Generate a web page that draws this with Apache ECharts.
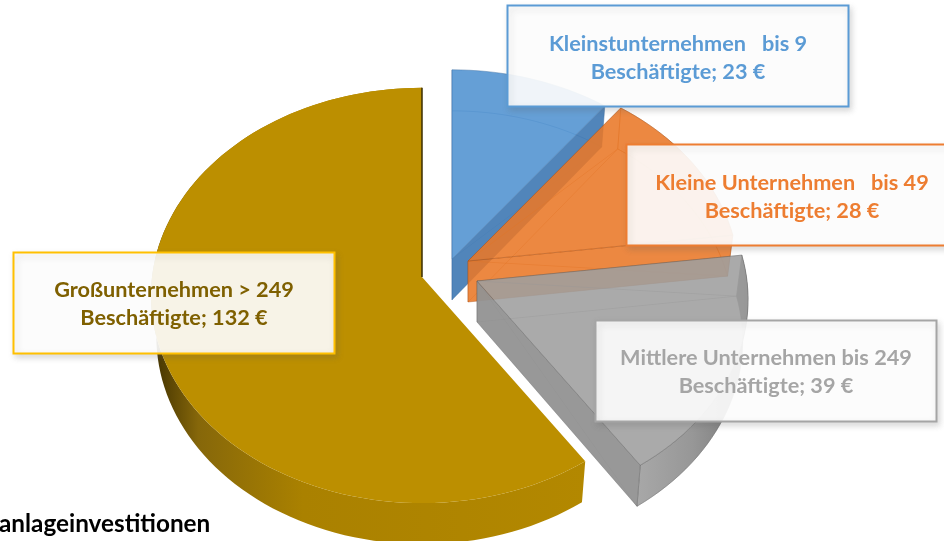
<!DOCTYPE html>
<html>
<head>
<meta charset="utf-8">
<style>html,body{margin:0;padding:0;background:#fff}#main{width:944px;height:541px}</style>
<script src="https://cdn.jsdelivr.net/npm/echarts@6/dist/echarts.min.js"></script>
</head>
<body>
<div id="main"></div>
<script>
// Daten
const categories = [
  'Kleinstunternehmen   bis 9\nBeschäftigte',
  'Kleine Unternehmen   bis 49\nBeschäftigte',
  'Mittlere Unternehmen bis 249\nBeschäftigte',
  'Großunternehmen > 249\nBeschäftigte'
];
const values = [23, 28, 39, 132];
const footText = 'anlageinvestitionen';

// Aussehen, gleiche Reihenfolge wie values
const apex = [[452, 259], [468, 261], [477, 281], [422, 277]];
const topColor = ['rgba(80,146,208,0.88)', 'rgba(233,119,39,0.88)', 'rgba(158,158,158,0.88)', '#bc8f00'];
const sideColor = ['rgba(62,120,178,0.9)', 'rgba(233,119,39,0.88)', 'rgba(146,146,146,0.95)', '#ab8200'];
const edgeColor = ['rgba(50,100,150,0.25)', 'rgba(170,80,20,0.4)', 'rgba(90,90,90,0.35)', 'rgba(60,45,0,0)'];
const rimStops = [
  null,
  null,
  [[0, '#a8a8a8'], [0.5, '#979797'], [0.8, '#838383'], [1, '#6a6a6a']],
  [[0, '#3e2f00'], [0.11, '#86670a'], [0.35, '#aa8100'], [1, '#b38800']]
];
const drawOrder = [1, 2, 3, 0]; // Groß liegt unten, Grau oben
const boxes = [[507.5, 5.5, 341, 101], [626.5, 144.5, 332, 101], [595.5, 320.5, 341, 101], [13.5, 252.5, 321, 101]];
const boxColor = ['#5b9bd5', '#ed7d31', '#a5a5a5', '#ffc000'];
const textColor = ['#5b9bd5', '#ed7d31', '#a5a5a5', '#7f6000'];
const textShift = [2, 2, 1, 1];

const RX = 270, RY = 206, PERSP = 0.089, DEPTH = 41, BOTTOM_SCALE = 0.98;
const total = values.reduce((a, b) => a + b, 0);

// Scheibe -> Bildschirm, Winkel im Uhrzeigersinn von oben
function project(c, deg, low) {
  const a = deg * Math.PI / 180;
  const u = Math.sin(a), v = Math.cos(a), w = 1 + PERSP * v;
  const sx = low ? BOTTOM_SCALE : 1;
  return [c[0] + u * RX / w * sx, c[1] - v * RY / w + (low ? DEPTH : 0)];
}

function arc(c, from, to, low) {
  const pts = [];
  const n = Math.ceil((to - from) / 2);
  for (let i = 0; i <= n; i++) pts.push(project(c, from + (to - from) * i / n, low));
  return pts;
}

function renderSlice(params, api) {
  const i = params.dataIndex;
  const c = apex[i];
  const before = values.slice(0, i).reduce((a, b) => a + b, 0);
  const from = before / total * 360;
  const to = (before + api.value(1)) / total * 360;
  const top = arc(c, from, to, false);
  const bottom = arc(c, from, to, true);
  const lowApex = [c[0], c[1] + DEPTH];
  const z = drawOrder[i] * 10;
  const none = 'rgba(0,0,0,0)';
  const poly = (points, fill, z2) => ({
    type: 'polygon',
    z2: z + z2,
    shape: { points },
    style: { fill, stroke: edgeColor[i], lineWidth: 1 }
  });
  const rimFill = rimStops[i] ? {
    type: 'linear', x: 0, y: 0, x2: 1, y2: 0,
    colorStops: rimStops[i].map((s) => ({ offset: s[0], color: s[1] }))
  } : none;
  const rimPts = i === 2
    ? arc(c, from, to, false).concat(bottom.slice().reverse())
    : top.concat(bottom.slice().reverse());
  // die durchscheinenden Flächen hinten nur als Linie, sonst wird die Deckfläche zu dunkel
  const children = [
    poly([c].concat(bottom), none, 0),
    poly([c, top[0], bottom[0], lowApex], none, 1),
    poly(rimPts, rimFill, 2),
    poly([c, top[top.length - 1], bottom[bottom.length - 1], lowApex], sideColor[i], 3),
    poly([c].concat(top), topColor[i], 4)
  ];
  if (i === 3) {
    // dunkle Kante der Rückseite
    children.push({
      type: 'polyline', z2: z + 5,
      shape: { points: [c, top[top.length - 1]] },
      style: { stroke: '#3a2c00', lineWidth: 1.5, fill: null }
    });
  }
  return { type: 'group', children };
}

function renderLabel(params, api) {
  const i = params.dataIndex;
  const b = boxes[i];
  const textX = i === 1 ? 792 : b[0] + b[2] / 2;
  return {
    type: 'group',
    children: [
      {
        type: 'rect', z2: 1,
        shape: { x: b[0], y: b[1], width: b[2], height: b[3] },
        style: {
          fill: 'rgba(255,255,255,0.9)', stroke: boxColor[i], lineWidth: 2,
          shadowColor: 'rgba(90,90,90,0.22)', shadowBlur: 6, shadowOffsetX: 2, shadowOffsetY: 3
        }
      },
      {
        type: 'text', z2: 2,
        x: textX, y: b[1] + b[3] / 2 + textShift[i],
        style: {
          text: categories[i] + '; ' + api.value(1) + ' €',
          font: 'bold 21.7px Lato, "Noto Sans", sans-serif',
          lineHeight: 28, fill: textColor[i], align: 'center', verticalAlign: 'middle'
        }
      }
    ]
  };
}

const chart = echarts.init(document.getElementById('main'), null, { renderer: 'canvas' });
chart.setOption({
  animation: false,
  backgroundColor: '#fff',
  graphic: [{
    type: 'text', left: -1, top: 512, z: 20,
    style: { text: footText, font: 'bold 24.3px Lato, "Noto Sans", sans-serif', fill: '#000' }
  }],
  series: [
    {
      type: 'custom', coordinateSystem: 'none', z: 2, silent: true,
      renderItem: renderSlice,
      data: values.map((v, i) => [i, v])
    },
    {
      type: 'custom', coordinateSystem: 'none', z: 10, silent: true,
      renderItem: renderLabel,
      data: values.map((v, i) => [i, v])
    }
  ]
});
</script>
</body>
</html>
